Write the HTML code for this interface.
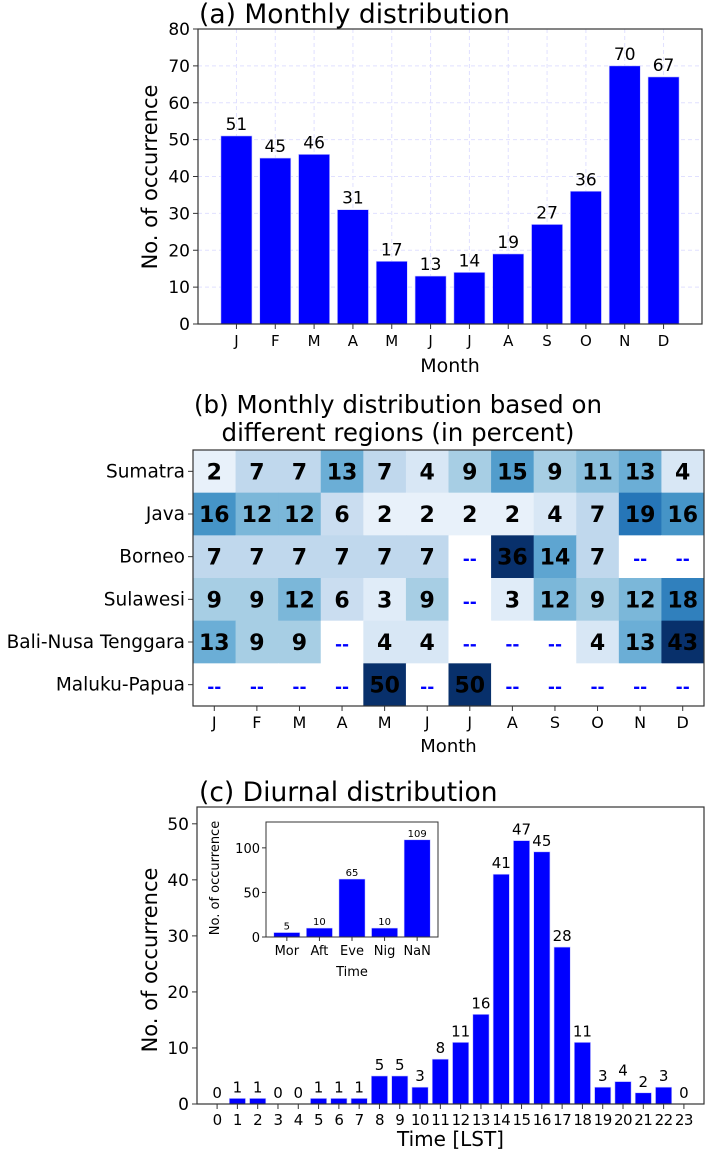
<!DOCTYPE html>
<html><head><meta charset="utf-8"><style>
html,body{margin:0;padding:0;background:#fff}
svg{display:block;font-family:"DejaVu Sans","Liberation Sans",sans-serif}
</style></head><body>
<svg id="fig" width="706" height="1155" viewBox="0 0 706 1155"></svg>
<script>
const months = ["J","F","M","A","M","J","J","A","S","O","N","D"];
const monthlyCounts = [51,45,46,31,17,13,14,19,27,36,70,67];
const monthlyTicks = [0,10,20,30,40,50,60,70,80];
const regions = ["Sumatra","Java","Borneo","Sulawesi","Bali-Nusa Tenggara","Maluku-Papua"];
const sumatraPct = [2,7,7,13,7,4,9,15,9,11,13,4];
const javaPct = [16,12,12,6,2,2,2,2,4,7,19,16];
const borneoPct = [7,7,7,7,7,7,null,36,14,7,null,null];
const sulawesiPct = [9,9,12,6,3,9,null,3,12,9,12,18];
const baliPct = [13,9,9,null,4,4,null,null,null,4,13,43];
const malukuPct = [null,null,null,null,50,null,50,null,null,null,null,null];
const hours = ["0","1","2","3","4","5","6","7","8","9","10","11","12","13","14","15","16","17","18","19","20","21","22","23"];
const hourlyCounts = [0,1,1,0,0,1,1,1,5,5,3,8,11,16,41,47,45,28,11,3,4,2,3,0];
const hourlyTicks = [0,10,20,30,40,50];
const periods = ["Mor","Aft","Eve","Nig","NaN"];
const periodCounts = [5,10,65,10,109];
const periodTicks = [0,50,100];

const NS="http://www.w3.org/2000/svg";
const svg=document.getElementById('fig');
function el(tag,attrs,parent,text){const e=document.createElementNS(NS,tag);for(const k in attrs)e.setAttribute(k,attrs[k]);if(text!==undefined)e.textContent=text;(parent||svg).appendChild(e);return e;}

// ---------- Panel (a) ----------
const A={l:198,r:702,t:29,b:324,ymax:80};
const aG=el('g',{});


const aX=i=>A.l+(i+0.99)*(A.r-A.l)/12.98;
const aY=v=>A.b-v*(A.b-A.t)/A.ymax;
const aStep=(A.r-A.l)/12.98;
monthlyTicks.forEach(t=>{
  const l=el('line',{x1:A.l,x2:A.r,y1:aY(t),y2:aY(t),stroke:'#e0e0ff','stroke-dasharray':'4,3','stroke-width':1},aG);
  
  
});
months.forEach((m,i)=>{
  const l=el('line',{x1:aX(i),x2:aX(i),y1:A.t,y2:A.b,stroke:'#e0e0ff','stroke-dasharray':'4,3','stroke-width':1},aG);
  
  
});
monthlyCounts.forEach((v,i)=>{
  const r=el('rect',{x:aX(i)-0.4*aStep,y:aY(v),width:0.8*aStep,height:aY(0)-aY(v),fill:'#0000ff',stroke:'#ccccff','stroke-width':0.6},aG);
  
  
  const t=el('text',{x:aX(i),y:aY(v)-6,'text-anchor':'middle','font-size':17},aG,String(v));
  
  
});
el('rect',{x:A.l,y:A.t,width:A.r-A.l,height:A.b-A.t,fill:'none',stroke:'#333','stroke-width':1.2},aG);
monthlyTicks.forEach(t=>{
  el('line',{x1:A.l-5,x2:A.l,y1:aY(t),y2:aY(t),stroke:'#333'},aG);
  const tx=el('text',{x:A.l-8,y:aY(t)+6,'text-anchor':'end','font-size':17},aG,String(t));
  
  
});
months.forEach((m,i)=>{
  el('line',{x1:aX(i),x2:aX(i),y1:A.b,y2:A.b+5,stroke:'#333'},aG);
  const tx=el('text',{x:aX(i),y:A.b+22,'text-anchor':'middle','font-size':15},aG,m);
  
  
});
let t=el('text',{x:(A.l+A.r)/2,y:372,'text-anchor':'middle','font-size':19},aG,'Month');

t=el('text',{x:0,y:0,'text-anchor':'middle','font-size':21,transform:'translate(157,177) rotate(-90)'},aG,'No. of occurrence');

t=el('text',{x:199,y:23,'font-size':26.5},aG,'(a) Monthly distribution');


// ---------- Panel (b) heatmap ----------
const H={l:193,r:704,t:450,b:706};
const hG=el('g',{});


const rows=[sumatraPct,javaPct,borneoPct,sulawesiPct,baliPct,malukuPct];
const cw=(H.r-H.l)/12, ch=(H.b-H.t)/6;
const stops=[[247,251,255],[222,235,247],[198,219,239],[158,202,225],[107,174,214],[66,146,198],[33,113,181],[8,81,156],[8,48,107]];
function blues(v){let f=Math.max(0,Math.min(1,v/26));const p=f*8,i=Math.min(7,Math.floor(p)),u=p-i;const a=stops[i],b=stops[i+1];return 'rgb('+a.map((c,k)=>Math.round(c+(b[k]-c)*u)).join(',')+')';}
rows.forEach((row,ri)=>{
  row.forEach((v,ci)=>{
    const x=H.l+ci*cw,y=H.t+ri*ch;
    const c=el('rect',{x:x,y:y,width:cw+0.5,height:ch+0.5,fill:v===null?'#fff':blues(v)},hG);
    
    
    const tx=el('text',{x:x+cw/2,y:y+ch/2+8,'text-anchor':'middle','font-size':v===null?17:22,'font-weight':'bold',fill:v===null?'#0000ff':'#000'},hG,v===null?'--':String(v));
    
    
  });
});
el('rect',{x:H.l,y:H.t,width:H.r-H.l,height:H.b-H.t,fill:'none',stroke:'#333','stroke-width':1.2},hG);
regions.forEach((r,i)=>{
  const y=H.t+(i+0.5)*ch;
  el('line',{x1:H.l-5,x2:H.l,y1:y,y2:y,stroke:'#333'},hG);
  const tx=el('text',{x:H.l-8,y:y+6,'text-anchor':'end','font-size':18.5},hG,r);
  
  
});
months.forEach((m,i)=>{
  const x=H.l+(i+0.5)*cw;
  el('line',{x1:x,x2:x,y1:H.b,y2:H.b+5,stroke:'#333'},hG);
  const tx=el('text',{x:x,y:H.b+22,'text-anchor':'middle','font-size':16},hG,m);
  
  
});
t=el('text',{x:(H.l+H.r)/2,y:752,'text-anchor':'middle','font-size':18},hG,'Month');

t=el('text',{x:398,y:413,'text-anchor':'middle','font-size':24.5},hG,'(b) Monthly distribution based on');

t=el('text',{x:398,y:441,'text-anchor':'middle','font-size':24.5},hG,'different regions (in percent)');


// ---------- Panel (c) ----------
const C={l:197,r:704,t:807,b:1104,ymax:53};
const cG=el('g',{});


const cStep=(C.r-C.l)/24.98;
const cX=i=>C.l+(i+0.99)*cStep;
const cY=v=>C.b-v*(C.b-C.t)/C.ymax;
hourlyCounts.forEach((v,i)=>{
  const r=el('rect',{x:cX(i)-0.4*cStep,y:cY(v),width:0.8*cStep,height:cY(0)-cY(v),fill:'#0000ff',stroke:'#ccccff','stroke-width':0.6},cG);
  
  
  const tx=el('text',{x:cX(i),y:cY(v)-6,'text-anchor':'middle','font-size':15},cG,String(v));
  
  
});
el('rect',{x:C.l,y:C.t,width:C.r-C.l,height:C.b-C.t,fill:'none',stroke:'#333','stroke-width':1.2},cG);
hourlyTicks.forEach(v=>{
  el('line',{x1:C.l-5,x2:C.l,y1:cY(v),y2:cY(v),stroke:'#333'},cG);
  const tx=el('text',{x:C.l-8,y:cY(v)+6,'text-anchor':'end','font-size':17},cG,String(v));
  
  
});
hours.forEach((h,i)=>{
  el('line',{x1:cX(i),x2:cX(i),y1:C.b,y2:C.b+5,stroke:'#333'},cG);
  const tx=el('text',{x:cX(i),y:C.b+21,'text-anchor':'middle','font-size':15,'letter-spacing':'-0.5'},cG,h);
  
  
});
t=el('text',{x:(C.l+C.r)/2,y:1146,'text-anchor':'middle','font-size':20},cG,'Time [LST]');

t=el('text',{x:0,y:0,'text-anchor':'middle','font-size':21,transform:'translate(157,960) rotate(-90)'},cG,'No. of occurrence');

t=el('text',{x:199,y:801,'font-size':26.5},cG,'(c) Diurnal distribution');


// Inset
const I={l:266,r:438,t:822,b:937,ymax:129};
const iG=el('g',{});


el('rect',{x:I.l,y:I.t,width:I.r-I.l,height:I.b-I.t,fill:'#fff'},iG);
const iStep=(I.r-I.l)/5.28;
const iX=i=>I.l+(i+0.64)*iStep;
const iY=v=>I.b-v*(I.b-I.t)/I.ymax;
periodCounts.forEach((v,i)=>{
  const r=el('rect',{x:iX(i)-0.4*iStep,y:iY(v),width:0.8*iStep,height:iY(0)-iY(v),fill:'#0000ff',stroke:'#ccccff','stroke-width':0.5},iG);
  
  
  const tx=el('text',{x:iX(i),y:iY(v)-3,'text-anchor':'middle','font-size':10},iG,String(v));
  
  
});
el('rect',{x:I.l,y:I.t,width:I.r-I.l,height:I.b-I.t,fill:'none',stroke:'#333','stroke-width':1},iG);
periodTicks.forEach(v=>{
  el('line',{x1:I.l-4,x2:I.l,y1:iY(v),y2:iY(v),stroke:'#333'},iG);
  const tx=el('text',{x:I.l-6,y:iY(v)+5,'text-anchor':'end','font-size':13},iG,String(v));
  
  
});
periods.forEach((p,i)=>{
  el('line',{x1:iX(i),x2:iX(i),y1:I.b,y2:I.b+4,stroke:'#333'},iG);
  const tx=el('text',{x:iX(i),y:I.b+18,'text-anchor':'middle','font-size':13},iG,p);
  
  
});
t=el('text',{x:(I.l+I.r)/2,y:976,'text-anchor':'middle','font-size':13},iG,'Time');

t=el('text',{x:0,y:0,'text-anchor':'middle','font-size':13,transform:'translate(219,878) rotate(-90)'},iG,'No. of occurrence');

</script>
</body></html>
